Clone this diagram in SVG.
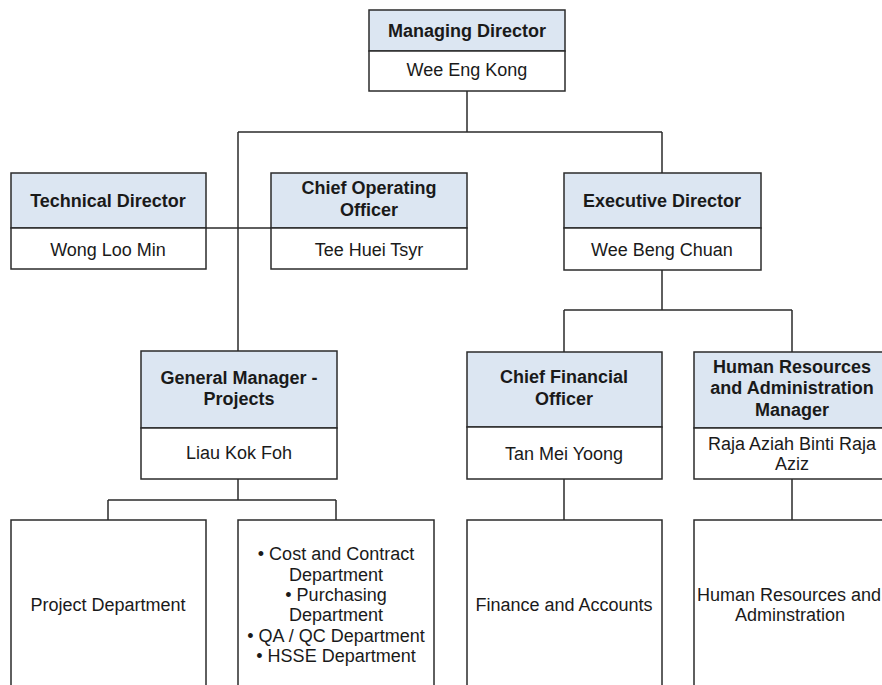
<svg xmlns="http://www.w3.org/2000/svg" width="882" height="685" viewBox="0 0 882 685">
<style>
.hd{fill:#dce6f2;stroke:#2b2b2b;stroke-width:1.5}
.bd{fill:#ffffff;stroke:#2b2b2b;stroke-width:1.5}
.t{font-family:"Liberation Sans",Arial,sans-serif;font-size:18px;fill:#1a1a1a;text-anchor:middle}
.b{font-weight:bold}
.c{fill:none;stroke:#2b2b2b;stroke-width:1.5}
</style>
<rect width="882" height="685" fill="#ffffff"/>
<g id="connectors" class="c">
<path d="M467 91V132M238 132H662M662 132V173M238 132V351M206 228H271"/>
<path d="M662 270V310M564 310H792M564 310V352M792 310V352"/>
<path d="M238 479V500M108 500H336M108 500V520M336 500V520"/>
<path d="M564 479V520M792 479V520"/>
</g>
<g id="managing-director">
<rect class="hd" x="369" y="10" width="196" height="41"/>
<rect class="bd" x="369" y="51" width="196" height="40"/>
<text class="t b" x="467" y="37">Managing Director</text>
<text class="t" x="467" y="76">Wee Eng Kong</text>
</g>
<g id="technical-director">
<rect class="hd" x="11" y="173" width="195" height="55"/>
<rect class="bd" x="11" y="228" width="195" height="41"/>
<text class="t b" x="108" y="207">Technical Director</text>
<text class="t" x="108" y="256">Wong Loo Min</text>
</g>
<g id="coo">
<rect class="hd" x="271" y="173" width="196" height="55"/>
<rect class="bd" x="271" y="228" width="196" height="41"/>
<text class="t b" x="369" y="194">Chief Operating</text>
<text class="t b" x="369" y="216">Officer</text>
<text class="t" x="369" y="256">Tee Huei Tsyr</text>
</g>
<g id="executive-director">
<rect class="hd" x="564" y="173" width="197" height="55"/>
<rect class="bd" x="564" y="228" width="197" height="42"/>
<text class="t b" x="662" y="207">Executive Director</text>
<text class="t" x="662" y="256">Wee Beng Chuan</text>
</g>
<g id="gm-projects">
<rect class="hd" x="141" y="351" width="196" height="77"/>
<rect class="bd" x="141" y="428" width="196" height="51"/>
<text class="t b" x="239" y="384">General Manager -</text>
<text class="t b" x="239" y="405">Projects</text>
<text class="t" x="239" y="459">Liau Kok Foh</text>
</g>
<g id="cfo">
<rect class="hd" x="467" y="352" width="195" height="75"/>
<rect class="bd" x="467" y="427" width="195" height="52"/>
<text class="t b" x="564" y="383">Chief Financial</text>
<text class="t b" x="564" y="405">Officer</text>
<text class="t" x="564" y="460">Tan Mei Yoong</text>
</g>
<g id="hr-manager">
<rect class="hd" x="694" y="352" width="196" height="76"/>
<rect class="bd" x="694" y="428" width="196" height="51"/>
<text class="t b" x="792" y="373">Human Resources</text>
<text class="t b" x="792" y="394">and Administration</text>
<text class="t b" x="792" y="416">Manager</text>
<text class="t" x="792" y="450">Raja Aziah Binti Raja</text>
<text class="t" x="792" y="470">Aziz</text>
</g>
<g id="project-department">
<rect class="bd" x="11" y="520" width="195" height="200"/>
<text class="t" x="108" y="611">Project Department</text>
</g>
<g id="project-support-departments">
<rect class="bd" x="238" y="520" width="196" height="200"/>
<text class="t" x="336" y="560">• Cost and Contract</text>
<text class="t" x="336" y="581">Department</text>
<text class="t" x="336" y="601">• Purchasing</text>
<text class="t" x="336" y="621">Department</text>
<text class="t" x="336" y="642">• QA / QC Department</text>
<text class="t" x="336" y="662">• HSSE Department</text>
</g>
<g id="finance-accounts">
<rect class="bd" x="467" y="520" width="195" height="200"/>
<text class="t" x="564" y="611">Finance and Accounts</text>
</g>
<g id="hr-administration">
<rect class="bd" x="694" y="520" width="196" height="200"/>
<text class="t" x="789" y="601" font-size="17.6">Human Resources and</text>
<text class="t" x="790" y="621">Adminstration</text>
</g>
</svg>
